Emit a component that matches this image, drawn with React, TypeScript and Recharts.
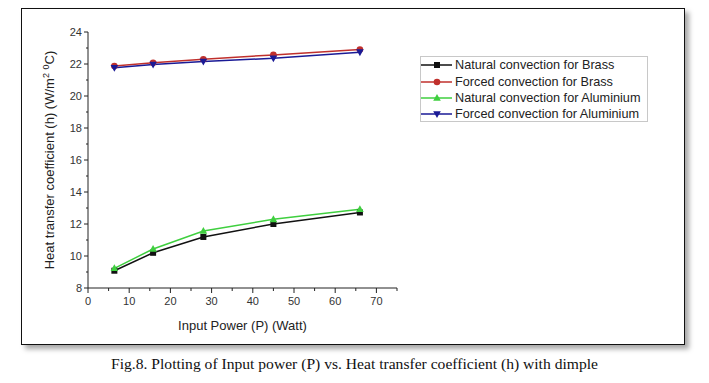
import { LineChart, Line, XAxis, YAxis, Label } from "recharts";

const power = [6.4, 15.8, 28, 45, 66];
const naturalBrass = [9.08, 10.2, 11.19, 12.0, 12.72];
const forcedBrass = [21.87, 22.08, 22.3, 22.57, 22.9];
const naturalAluminium = [9.23, 10.44, 11.56, 12.29, 12.92];
const forcedAluminium = [21.77, 21.97, 22.16, 22.36, 22.74];

const xTicks = [0, 5, 10, 15, 20, 25, 30, 35, 40, 45, 50, 55, 60, 65, 70, 75];
const yTicks = [8, 9, 10, 11, 12, 13, 14, 15, 16, 17, 18, 19, 20, 21, 22, 23, 24];

const data = power.map((p, i) => ({
  p,
  nb: naturalBrass[i],
  fb: forcedBrass[i],
  na: naturalAluminium[i],
  fa: forcedAluminium[i],
}));

const series = [
  { key: "nb", name: "Natural convection for Brass", color: "#111111", shape: "square" },
  { key: "fb", name: "Forced convection for Brass", color: "#c0302c", shape: "circle" },
  { key: "na", name: "Natural convection for Aluminium", color: "#3fcf3f", shape: "up" },
  { key: "fa", name: "Forced convection for Aluminium", color: "#1a1a96", shape: "down" },
];

const FONT = "'Liberation Sans', Arial, sans-serif";

function Marker({ cx, cy, shape, color }: any) {
  if (cx == null || cy == null) return null;
  if (shape === "square") return <rect x={cx - 3} y={cy - 3} width={6} height={6} fill={color} />;
  if (shape === "circle") return <circle cx={cx} cy={cy} r={3.3} fill={color} />;
  if (shape === "up")
    return <polygon points={`${cx},${cy - 4} ${cx - 3.8},${cy + 2.8} ${cx + 3.8},${cy + 2.8}`} fill={color} />;
  return <polygon points={`${cx},${cy + 4} ${cx - 3.8},${cy - 2.8} ${cx + 3.8},${cy - 2.8}`} fill={color} />;
}

// tickSize 0 + tickMargin 0 => tick x/y sits on the axis line
function YTick({ x, y, payload }: any) {
  const major = payload.value % 2 === 0;
  return (
    <g>
      <line x1={x - (major ? 4 : 2)} x2={x} y1={y} y2={y} stroke="#222" strokeWidth={1} />
      {major && (
        <text x={x - 6} y={y} dy={4} textAnchor="end" fontSize={11} fill="#333" fontFamily={FONT}>
          {payload.value}
        </text>
      )}
    </g>
  );
}

function XTick({ x, y, payload }: any) {
  const major = payload.value % 10 === 0;
  if (payload.value > 70) {
    return <line x1={x} x2={x} y1={y} y2={y + 3} stroke="#222" strokeWidth={1} />;
  }
  return (
    <g>
      <line x1={x} x2={x} y1={y} y2={y + (major ? 5 : 3)} stroke="#222" strokeWidth={1} />
      {major && (
        <text x={x} y={y + 17} textAnchor="middle" fontSize={11} fill="#333" fontFamily={FONT}>
          {payload.value}
        </text>
      )}
    </g>
  );
}

function LegendBox() {
  return (
    <div
      style={{
        position: "absolute",
        left: 420,
        top: 56,
        width: 228,
        height: 66,
        border: "1px solid #c8c8c8",
        fontFamily: FONT,
        fontSize: 12.7,
        color: "#222",
        background: "#fff",
        boxSizing: "border-box",
        paddingTop: 0,
      }}
    >
      {series.map((s) => (
        <div key={s.key} style={{ display: "flex", alignItems: "center", height: 16.4 }}>
          <svg width={31} height={12} style={{ marginRight: 3, flex: "none" }}>
            <line x1={0} x2={31} y1={6} y2={6} stroke={s.color} strokeWidth={1.5} />
            <Marker cx={16} cy={6} shape={s.shape} color={s.color} />
          </svg>
          <span style={{ whiteSpace: "nowrap" }}>{s.name}</span>
        </div>
      ))}
    </div>
  );
}

export default function App() {
  return (
    <div style={{ position: "absolute", left: 0, top: 0, width: 709, height: 383, background: "#fff" }}>
      <div
        style={{
          position: "absolute",
          left: 21,
          top: 8,
          width: 662,
          height: 335,
          border: "1.5px solid #111",
          boxShadow: "4px 4px 5px rgba(0,0,0,0.35)",
          background: "#fff",
        }}
      />
      <div style={{ position: "absolute", left: 0, top: 0 }}>
        <LineChart
          width={709}
          height={383}
          data={data}
          margin={{ top: 32, right: 312, bottom: 65, left: 48 }}
        >
          <XAxis
            dataKey="p"
            type="number"
            domain={[0, 75]}
            ticks={xTicks}
            interval={0}
            tickSize={0}
            tickMargin={0}
            tickLine={false}
            tick={<XTick />}
            height={30}
            stroke="#222"
            allowDataOverflow
          >
            <Label
              content={({ viewBox }: any) => (
                <text
                  x={viewBox.x + viewBox.width / 2}
                  y={viewBox.y + 42}
                  textAnchor="middle"
                  fontSize={13}
                  fill="#222"
                  fontFamily={FONT}
                >
                  Input Power (P) (Watt)
                </text>
              )}
            />
          </XAxis>
          <YAxis
            type="number"
            domain={[8, 24]}
            ticks={yTicks}
            interval={0}
            tickSize={0}
            tickMargin={0}
            tickLine={false}
            tick={<YTick />}
            width={40}
            stroke="#222"
          >
            <Label
              content={({ viewBox }: any) => {
                const cx = viewBox.x + 6;
                const cy = viewBox.y + viewBox.height / 2;
                return (
                  <text
                    x={cx}
                    y={cy}
                    transform={`rotate(-90 ${cx} ${cy})`}
                    textAnchor="middle"
                    fontSize={13}
                    fill="#222"
                    fontFamily={FONT}
                  >
                    Heat transfer coefficient (h) (W/m
                    <tspan fontSize={9} dy={-5}>2</tspan>
                    <tspan dy={5}> </tspan>
                    <tspan fontSize={9} dy={-5}>0</tspan>
                    <tspan dy={5}>C)</tspan>
                  </text>
                );
              }}
            />
          </YAxis>
          {series.map((s) => (
            <Line
              key={s.key}
              dataKey={s.key}
              name={s.name}
              stroke={s.color}
              strokeWidth={1.5}
              isAnimationActive={false}
              dot={(props: any) => (
                <Marker key={`${s.key}-${props.index}`} cx={props.cx} cy={props.cy} shape={s.shape} color={s.color} />
              )}
              activeDot={false}
            />
          ))}
        </LineChart>
      </div>
      <LegendBox />
      <div
        style={{
          position: "absolute",
          left: 0,
          width: 709,
          top: 355,
          textAlign: "center",
          fontFamily: "'Liberation Serif', 'Times New Roman', serif",
          fontSize: 15.6,
          color: "#111",
        }}
      >
        Fig.8. Plotting of Input power (P) vs. Heat transfer coefficient (h) with dimple
      </div>
    </div>
  );
}
